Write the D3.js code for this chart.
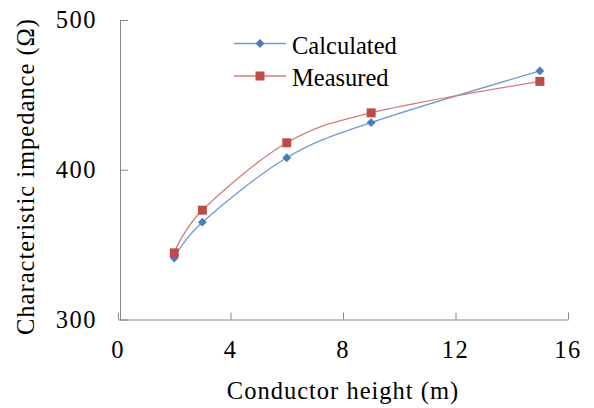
<!DOCTYPE html>
<html>
<head>
<meta charset="utf-8">
<script src="https://cdn.jsdelivr.net/npm/d3@7"></script>
</head>
<body style="margin:0;background:#fff">
<svg id="chart" width="594" height="408" style="display:block"></svg>
<script>
// Conductor height (m) and characteristic impedance (Ω)
const heights = [2, 3, 6, 9, 15];
const calculated = [341, 365, 408, 431.5, 466];
const measured = [344.5, 373, 418, 438, 459];
const xTicks = [0, 4, 8, 12, 16];
const yTicks = [300, 400, 500];
const seriesNames = ["Calculated", "Measured"];

const serif = '"Liberation Serif"';
const svg = d3.select("#chart");
const axisColor = "#868686";

const x = d3.scaleLinear().domain([0, 16]).range([118, 568]);
const y = d3.scaleLinear().domain([300, 500]).range([319.5, 20]);

// x axis: line with ticks pointing up into the plot
const xAxis = svg.append("g").attr("transform", `translate(0,${y(300)})`)
  .call(d3.axisTop(x).tickValues(xTicks).tickSize(7).tickSizeOuter(0).tickFormat(""));
xAxis.select(".domain").attr("stroke", axisColor);
xAxis.selectAll(".tick line").attr("stroke", axisColor);

svg.append("g").selectAll("text").data(xTicks).join("text")
  .attr("x", d => x(d)).attr("y", 358)
  .attr("text-anchor", "middle")
  .style("font-family", serif)
  .style("font-size", "24.5px").style("letter-spacing", "1.5px")
  .attr("fill", "#000")
  .text(d => d);

// y axis: line with ticks pointing right into the plot
const yAxis = svg.append("g").attr("transform", "translate(120,0)")
  .call(d3.axisRight(y).tickValues(yTicks).tickSize(8).tickSizeOuter(0).tickFormat(""));
yAxis.select(".domain").attr("stroke", axisColor);
yAxis.selectAll(".tick line").attr("stroke", axisColor);

svg.append("g").selectAll("text").data(yTicks).join("text")
  .attr("x", 97).attr("y", d => y(d) + 8)
  .attr("text-anchor", "end")
  .style("font-family", serif)
  .style("font-size", "24.5px").style("letter-spacing", "1.5px")
  .attr("fill", "#000")
  .text(d => d);

// axis titles
svg.append("text")
  .attr("x", 343).attr("y", 399)
  .attr("text-anchor", "middle")
  .style("font-family", serif)
  .style("font-size", "24.5px").style("letter-spacing", "1px")
  .text("Conductor height (m)");

svg.append("text")
  .attr("transform", "translate(34,176.5) rotate(-90)")
  .attr("text-anchor", "middle")
  .style("font-family", serif)
  .style("font-size", "24.5px").style("letter-spacing", "1px")
  .text("Characteristic impedance (Ω)");

// smoothed series lines
const line = d3.line()
  .x(d => x(d[0])).y(d => y(d[1]))
  .curve(d3.curveCatmullRom.alpha(0));

const calcPts = heights.map((h, i) => [h, calculated[i]]);
const measPts = heights.map((h, i) => [h, measured[i]]);

const blueLine = "#6f9bd1", blueMark = "#4a7ebb";
const redLine = "#d27c7a", redMark = "#be4b48";

svg.append("path").datum(calcPts)
  .attr("d", line).attr("fill", "none")
  .attr("stroke", blueLine).attr("stroke-width", 1.3);
svg.append("path").datum(measPts)
  .attr("d", line).attr("fill", "none")
  .attr("stroke", redLine).attr("stroke-width", 1.3);

const diamond = d3.symbol().type(d3.symbolDiamond2).size(50);
const square = d3.symbol().type(d3.symbolSquare).size(81);

svg.append("g").selectAll("path").data(calcPts).join("path")
  .attr("transform", d => `translate(${x(d[0])},${y(d[1])})`)
  .attr("d", diamond).attr("fill", blueMark);

svg.append("g").selectAll("path").data(measPts).join("path")
  .attr("transform", d => `translate(${x(d[0])},${y(d[1])})`)
  .attr("d", square).attr("fill", redMark);

// legend
const legend = svg.append("g");
const legendRows = [
  { name: seriesNames[0], line: blueLine, mark: blueMark, sym: diamond, y: 43.5 },
  { name: seriesNames[1], line: redLine, mark: redMark, sym: square, y: 76 }
];
legendRows.forEach(r => {
  legend.append("line")
    .attr("x1", 234).attr("x2", 286).attr("y1", r.y).attr("y2", r.y)
    .attr("stroke", r.line).attr("stroke-width", 1.3);
  legend.append("path")
    .attr("transform", `translate(260,${r.y})`)
    .attr("d", r.sym).attr("fill", r.mark);
  legend.append("text")
    .attr("x", 292).attr("y", r.y + 10)
    .style("font-family", serif)
    .style("font-size", "24.5px")
    .text(r.name);
});
</script>
</body>
</html>
